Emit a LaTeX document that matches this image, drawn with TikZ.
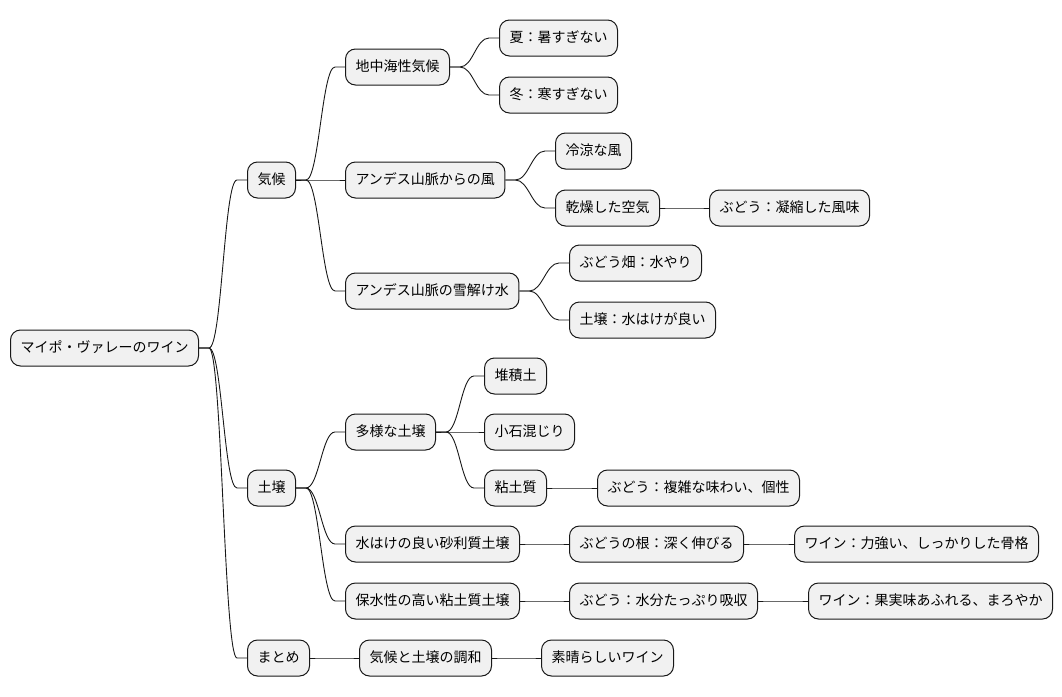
\documentclass[tikz,border=0pt]{standalone}
\usepackage{fontspec}
\setmainfont{Noto Sans CJK JP}
\usetikzlibrary{positioning}

\definecolor{boxfill}{HTML}{F1F1F1}
\definecolor{boxline}{HTML}{181818}

\tikzset{
	idea/.style={draw=boxline, fill=boxfill, line width=1pt, rounded corners=10pt,
		anchor=west, minimum height=36pt, inner xsep=10pt, inner ysep=0pt,
		font=\fontsize{14}{16}\selectfont, text height=11pt, text depth=2pt},
	branch/.style={draw=boxline, line width=0.9pt},
}

\begin{document}
\begin{tikzpicture}[x=1pt, y=-1pt]
	\useasboundingbox (0, 0) rectangle (1062, 696);

	% root
	\node[idea] (root) at (10, 348) {マイポ・ヴァレーのワイン};

	% first level
	\node[idea] (kikou) at (247, 180) {気候};
	\node[idea] (dojou) at (247, 488) {土壌};
	\node[idea] (matome) at (247, 658) {まとめ};

	% climate
	\node[idea] (chichukai) at (345, 67) {地中海性気候};
	\node[idea] (natsu) at (499, 38) {夏：暑すぎない};
	\node[idea] (fuyu) at (499, 95) {冬：寒すぎない};
	\node[idea] (kaze) at (345, 180) {アンデス山脈からの風};
	\node[idea] (reiryo) at (555, 151) {冷涼な風};
	\node[idea] (kanso) at (555, 208) {乾燥した空気};
	\node[idea] (gyoshuku) at (709, 208) {ぶどう：凝縮した風味};
	\node[idea] (yukidoke) at (345, 291) {アンデス山脈の雪解け水};
	\node[idea] (hatake) at (569, 263) {ぶどう畑：水やり};
	\node[idea] (mizuhake) at (569, 320) {土壌：水はけが良い};

	% soil
	\node[idea] (tayou) at (345, 432) {多様な土壌};
	\node[idea] (taiseki) at (484, 376) {堆積土};
	\node[idea] (koishi) at (484, 432) {小石混じり};
	\node[idea] (nendo) at (484, 488) {粘土質};
	\node[idea] (fukuzatsu) at (597, 488) {ぶどう：複雑な味わい、個性};
	\node[idea] (jari) at (345, 544) {水はけの良い砂利質土壌};
	\node[idea] (ne) at (569, 544) {ぶどうの根：深く伸びる};
	\node[idea] (chikara) at (794, 544) {ワイン：力強い、しっかりした骨格};
	\node[idea] (hosui) at (345, 601) {保水性の高い粘土質土壌};
	\node[idea] (kyushu) at (569, 601) {ぶどう：水分たっぷり吸収};
	\node[idea] (kajitsu) at (808, 601) {ワイン：果実味あふれる、まろやか};

	% summary
	\node[idea] (chouwa) at (359, 658) {気候と土壌の調和};
	\node[idea] (subarashii) at (541, 658) {素晴らしいワイン};

	% connectors
	\foreach \p/\c in {root/kikou, root/dojou, root/matome,
		kikou/chichukai, kikou/kaze, kikou/yukidoke,
		chichukai/natsu, chichukai/fuyu,
		kaze/reiryo, kaze/kanso, kanso/gyoshuku,
		yukidoke/hatake, yukidoke/mizuhake,
		dojou/tayou, dojou/jari, dojou/hosui,
		tayou/taiseki, tayou/koishi, tayou/nendo, nendo/fukuzatsu,
		jari/ne, ne/chikara, hosui/kyushu, kyushu/kajitsu,
		matome/chouwa, chouwa/subarashii}
		\draw[branch] (\p.east) -- ++(10, 0) .. controls +(13, 0) and +(-13, 0) .. ([xshift=-10pt]\c.west) -- (\c.west);
\end{tikzpicture}
\end{document}
